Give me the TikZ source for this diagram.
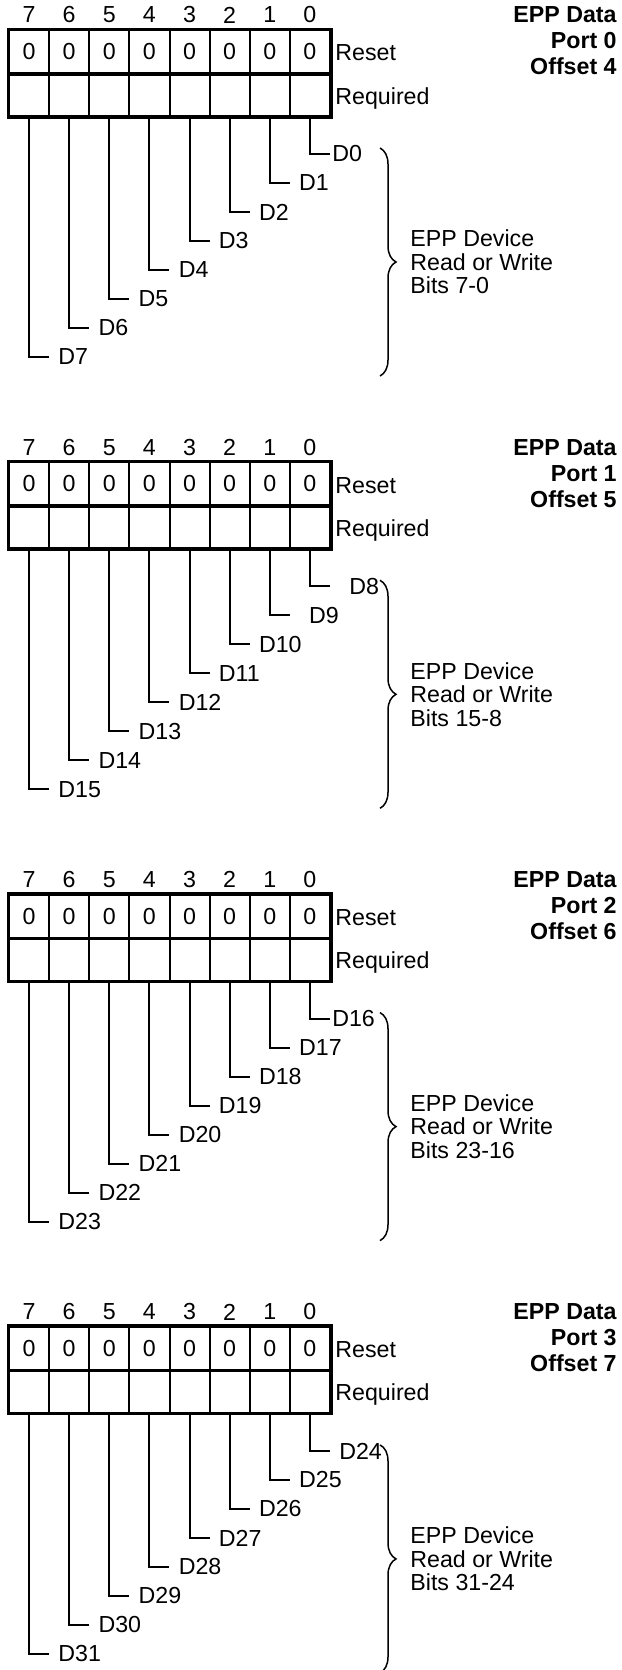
\documentclass[tikz,border=0pt]{standalone}
\usepackage{fontspec}
\setmainfont{Liberation Sans}
\usetikzlibrary{decorations.pathreplacing}

\begin{document}
\begin{tikzpicture}[x=0.5pt,y=-0.5pt,
  every node/.style={font=\fontsize{11.6}{11.75}\selectfont, inner sep=0pt},
  cell/.style={draw, line width=1pt, minimum width=20.0625pt, minimum height=21.5pt},
  bitline/.style={line width=1pt},
  frame/.style={line width=1.5pt},
  brc/.style={decorate, decoration={brace, amplitude=8pt}, line width=0.75pt}]
\useasboundingbox (0,0) rectangle (621,1670);

\foreach \port in {0,1,2,3}{
  \pgfmathsetmacro\T{30+432.3*\port}
  \pgfmathtruncatemacro\off{4+\port}
  \pgfmathtruncatemacro\hi{8*\port+7}
  \pgfmathtruncatemacro\lo{8*\port}
  \foreach \bit in {0,...,7}{
    \pgfmathsetmacro\X{9+40.125*(7.5-\bit)}
    \pgfmathsetmacro\Y{\T+124+29*\bit}
    \pgfmathtruncatemacro\n{8*\port+\bit}
    \pgfmathsetmacro\G{(\port==1 && \bit<2) ? 9.5 : ((\bit==0 && (\port==0 || \port==2)) ? 1 : 4.5)}
    \node (N\port\bit) at (\X,\T-15) {\bit};
    \node[cell] (R\port\bit) at (\X,\T+21.5) {0};
    \node[cell] (Q\port\bit) at (\X,\T+64.5) {};
    \node[anchor=west, inner xsep=\G pt] (D\port\bit) at (\X+20,\Y) {D\n};
    \draw[bitline] (Q\port\bit.south) |- (D\port\bit.west);
  }
  \draw[frame] (R\port7.north west) rectangle (Q\port0.south east);
  \draw[frame] (R\port7.south west) -- (R\port0.south east);

  \node[anchor=base west] (RS\port) at (335,\T+31) {Reset};
  \node[anchor=base west] (RQ\port) at (335,\T+74) {Required};
  \node[anchor=east, align=right, font=\bfseries\fontsize{11.6}{13}\selectfont] (H\port) at (617,\T+11) {EPP Data\\Port \port\\Offset \off};

  \coordinate (BT\port) at (380,\T+118);
  \coordinate (BB\port) at (380,\T+346);
  \draw[brc] (BT\port) -- (BB\port);
  \node[anchor=west, align=left] (E\port) at (410,\T+232) {EPP Device\\Read or Write\\Bits \hi-\lo};
}
\end{tikzpicture}
\end{document}
